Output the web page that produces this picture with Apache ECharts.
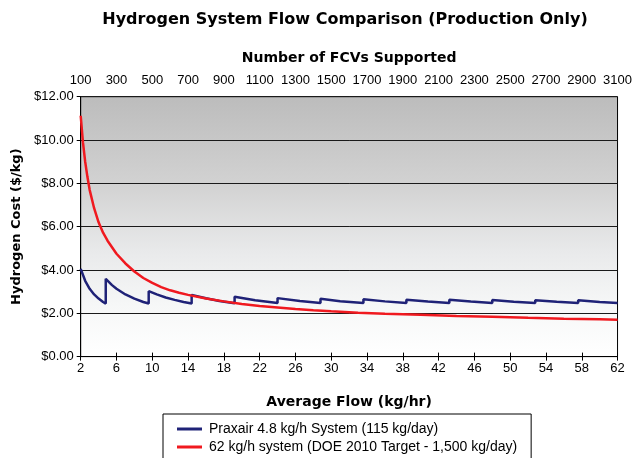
<!DOCTYPE html>
<html>
<head>
<meta charset="utf-8">
<script src="https://cdn.jsdelivr.net/npm/echarts@6/dist/echarts.min.js"></script>
<style>
html,body{margin:0;padding:0;background:#fff;}
#chart{width:635px;height:458px;}
</style>
</head>
<body>
<div id="chart"></div>
<script>
// Bottom axis: Average flow (kg/hr); top axis: FCVs supported
var flowTicks = {min: 2, max: 62, interval: 4};
var fcvTicks = {min: 100, max: 3100, interval: 200};
var costTicks = {min: 0, max: 12, interval: 2};

var seriesNames = [
  'Praxair 4.8 kg/h System (115 kg/day)',
  '62 kg/h system (DOE 2010 Target - 1,500 kg/day)'
];

// Praxair 4.8 kg/h system: sawtooth (a new unit added every 4.8 kg/hr)
var praxairFlow = [2,2.5,3,3.5,4,4.5,4.8, 4.8,5.5,6,7,8,9,9.6, 9.6,10.5,11.5,12.5,13.5,14.4,
  14.4,16,17.5,19.2, 19.2,21.5,24, 24,26.5,28.8, 28.8,31,33.6, 33.6,36,38.4,
  38.4,40.8,43.2, 43.2,45.6,48, 48,50.4,52.8, 52.8,55.2,57.6, 57.6,60,62];
var praxairCost = [4.05,3.50,3.13,2.87,2.68,2.52,2.45, 3.59,3.30,3.13,2.87,2.68,2.52,2.45, 3.02,2.87,2.73,2.62,2.52,2.45,
  2.85,2.69,2.57,2.46, 2.76,2.60,2.47, 2.70,2.57,2.47, 2.67,2.56,2.47, 2.65,2.55,2.47,
  2.63,2.54,2.47, 2.62,2.54,2.47, 2.61,2.53,2.47, 2.60,2.53,2.47, 2.60,2.52,2.48];

// 62 kg/h system (DOE 2010 target)
var doeFlow = [2,2.25,2.5,2.75,3,3.5,4,4.5,5,6,7,8,9,10,11,12,13,14,16,18,20,22,24,26,28,30,33,36,40,44,48,52,56,60,62];
var doeCost = [11.12,9.9,9.0,8.3,7.7,6.85,6.2,5.72,5.35,4.75,4.3,3.93,3.63,3.4,3.21,3.06,2.95,2.85,2.68,2.55,2.43,2.34,2.27,2.2,2.14,2.09,2.03,1.98,1.93,1.88,1.84,1.79,1.75,1.72,1.70];

function zip(a, b) { return a.map(function (v, i) { return [v, b[i]]; }); }

var FONT = '"Liberation Sans", Arial, sans-serif';
var BOLD = '"DejaVu Sans", "Liberation Sans", sans-serif';
var chart = echarts.init(document.getElementById('chart'), null, {renderer: 'canvas'});
chart.setOption({
  animation: false,
  backgroundColor: '#ffffff',
  textStyle: {fontFamily: FONT, color: '#000'},
  title: {
    text: 'Hydrogen System Flow Comparison (Production Only)',
    left: 340, top: 7, textAlign: 'center',
    textStyle: {fontFamily: BOLD, fontSize: 16, fontWeight: 'bold', color: '#000'}
  },
  grid: {
    left: 80.7, right: 13, top: 96.7, bottom: 101.4,
    show: true, borderColor: '#000', borderWidth: 1,
    backgroundColor: {
      type: 'linear', x: 0, y: 0, x2: 0, y2: 1,
      colorStops: [
        {offset: 0, color: '#bcbcbc'},
        {offset: 0.35, color: '#d3d3d3'},
        {offset: 0.6, color: '#e9eaeb'},
        {offset: 0.8, color: '#f6f7f7'},
        {offset: 1, color: '#ffffff'}
      ]
    }
  },
  legend: {
    orient: 'vertical',
    left: 163, top: 414, height: 80,
    padding: [8, 14, 30, 14],
    itemGap: 4,
    itemWidth: 25, itemHeight: 3,
    icon: 'rect',
    borderColor: '#000', borderWidth: 1,
    textStyle: {fontFamily: FONT, fontSize: 14, color: '#000', padding: [0, 0, 0, 2]},
    data: seriesNames
  },
  xAxis: [
    {
      type: 'value', position: 'bottom',
      min: flowTicks.min, max: flowTicks.max, interval: flowTicks.interval,
      name: 'Average Flow (kg/hr)', nameLocation: 'middle', nameGap: 39,
      nameTextStyle: {fontFamily: BOLD, fontSize: 14, fontWeight: 'bold', color: '#000'},
      axisLine: {show: true, onZero: false, lineStyle: {color: '#000', width: 1}},
      axisTick: {show: true, inside: true, length: 4, lineStyle: {color: '#000'}},
      axisLabel: {fontFamily: FONT, fontSize: 13, color: '#000', margin: 5},
      splitLine: {show: false}
    },
    {
      type: 'value', position: 'top',
      min: fcvTicks.min, max: fcvTicks.max, interval: fcvTicks.interval,
      name: 'Number of FCVs Supported', nameLocation: 'middle', nameGap: 31,
      nameTextStyle: {fontFamily: BOLD, fontSize: 14, fontWeight: 'bold', color: '#000'},
      axisLine: {show: true, lineStyle: {color: '#000', width: 1}},
      axisTick: {show: true, inside: true, length: 4, lineStyle: {color: '#000'}},
      axisLabel: {
        fontFamily: FONT, fontSize: 13, color: '#000', margin: 10,
        formatter: function (v) { return String(v); }
      },
      splitLine: {show: false}
    }
  ],
  yAxis: {
    type: 'value',
    min: costTicks.min, max: costTicks.max, interval: costTicks.interval,
    name: 'Hydrogen Cost ($/kg)', nameLocation: 'middle', nameGap: 52,
    nameTextStyle: {fontFamily: BOLD, fontSize: 13, fontWeight: 'bold', color: '#000'},
    axisLine: {show: true, lineStyle: {color: '#000', width: 1}},
    axisTick: {show: true, length: 4, lineStyle: {color: '#000'}},
    axisLabel: {
      fontFamily: FONT, fontSize: 13, color: '#000', margin: 7,
      formatter: function (v) { return '$' + v.toFixed(2); }
    },
    splitLine: {show: true, lineStyle: {color: '#1a1a1a', width: 1}}
  },
  series: [
    {
      name: seriesNames[0], type: 'line', xAxisIndex: 0,
      data: zip(praxairFlow, praxairCost),
      showSymbol: false, symbol: 'none',
      lineStyle: {color: '#1f2277', width: 2.5},
      itemStyle: {color: '#1f2277'}
    },
    {
      name: seriesNames[1], type: 'line', xAxisIndex: 0,
      data: zip(doeFlow, doeCost),
      showSymbol: false, symbol: 'none',
      lineStyle: {color: '#f0191f', width: 2.5},
      itemStyle: {color: '#f0191f'}
    }
  ]
});
</script>
</body>
</html>
